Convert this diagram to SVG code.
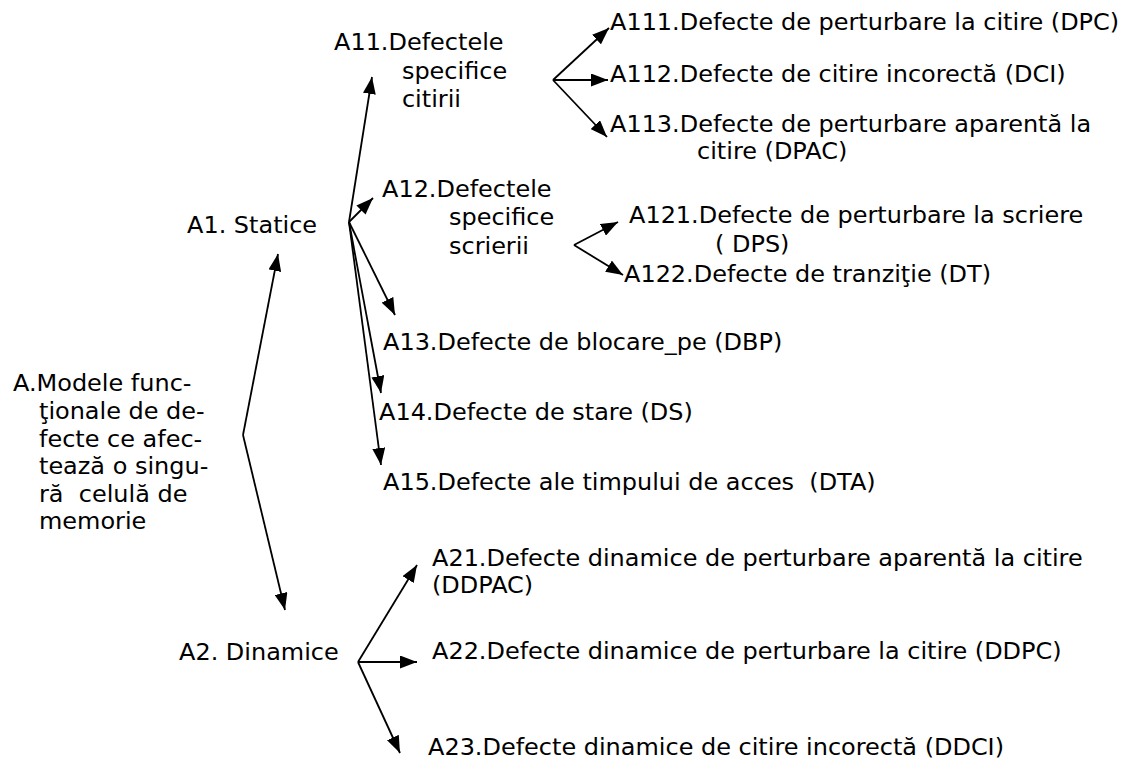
<svg xmlns="http://www.w3.org/2000/svg" width="1131" height="762" viewBox="0 0 1131 762">
  <style>
    text { font-family: "DejaVu Sans", Verdana, sans-serif; font-size: 22.5px; fill: #000; }
    .link { stroke: #000; stroke-width: 1.8; fill: none; marker-end: url(#head); }
  </style>
  <defs>
    <marker id="head" markerUnits="userSpaceOnUse" markerWidth="18" markerHeight="13" refX="17" refY="6.5" orient="auto">
      <path d="M0,0 L17,6.5 L0,13 z" fill="#000"/>
    </marker>
  </defs>
  <rect width="1131" height="762" fill="#fff"/>

  <!-- connectors -->
  <g id="connectors">
    <line class="link" x1="243" y1="435" x2="278" y2="254"/>
    <line class="link" x1="243" y1="435" x2="285" y2="610"/>
    <line class="link" x1="349" y1="222" x2="372" y2="77"/>
    <line class="link" x1="349" y1="222" x2="373" y2="198"/>
    <line class="link" x1="349" y1="222" x2="395" y2="315"/>
    <line class="link" x1="349" y1="222" x2="381" y2="393"/>
    <line class="link" x1="349" y1="222" x2="381" y2="465"/>
    <line class="link" x1="553" y1="80" x2="609" y2="28"/>
    <line class="link" x1="553" y1="80" x2="608" y2="80"/>
    <line class="link" x1="553" y1="80" x2="607" y2="137"/>
    <line class="link" x1="574" y1="245" x2="618" y2="222"/>
    <line class="link" x1="574" y1="245" x2="623" y2="275"/>
    <line class="link" x1="358" y1="662" x2="417" y2="565"/>
    <line class="link" x1="358" y1="662" x2="417" y2="662"/>
    <line class="link" x1="358" y1="662" x2="400" y2="753"/>
  </g>

  <!-- nodes: text is set slightly wide (scale 1.065 horizontally) -->
  <g id="node-A">
    <text transform="translate(13 391) scale(1.065 1)">A.Modele func-<tspan x="24.4" dy="28">ţionale de de-</tspan><tspan x="24.4" dy="28">fecte ce afec-</tspan><tspan x="24.4" dy="27">tează o singu-</tspan><tspan x="24.4" dy="28">ră&#160; celulă de</tspan><tspan x="24.4" dy="27">memorie</tspan></text>
  </g>
  <g id="node-A1">
    <text transform="translate(187 233) scale(1.065 1)">A1. Statice</text>
  </g>
  <g id="node-A2">
    <text transform="translate(179 660) scale(1.065 1)">A2. Dinamice</text>
  </g>
  <g id="node-A11">
    <text transform="translate(334 50) scale(1.065 1)">A11.Defectele<tspan x="63.8" dy="29">specifice</tspan><tspan x="63.8" dy="28">citirii</tspan></text>
  </g>
  <g id="node-A111">
    <text transform="translate(610 30) scale(1.065 1)">A111.Defecte de perturbare la citire (DPC)</text>
  </g>
  <g id="node-A112">
    <text transform="translate(610 82) scale(1.065 1)">A112.Defecte de citire incorectă (DCI)</text>
  </g>
  <g id="node-A113">
    <text transform="translate(610 132) scale(1.065 1)">A113.Defecte de perturbare aparentă la<tspan x="81.7" dy="27">citire (DPAC)</tspan></text>
  </g>
  <g id="node-A12">
    <text transform="translate(382 197) scale(1.065 1)">A12.Defectele<tspan x="62.9" dy="28">specifice</tspan><tspan x="62.9" dy="29">scrierii</tspan></text>
  </g>
  <g id="node-A121">
    <text transform="translate(629 223) scale(1.065 1)">A121.Defecte de perturbare la scriere<tspan x="80.8" dy="29">( DPS)</tspan></text>
  </g>
  <g id="node-A122">
    <text transform="translate(624 282) scale(1.065 1)">A122.Defecte de tranziţie (DT)</text>
  </g>
  <g id="node-A13">
    <text transform="translate(383 350) scale(1.065 1)">A13.Defecte de blocare_pe (DBP)</text>
  </g>
  <g id="node-A14">
    <text transform="translate(379 420) scale(1.065 1)">A14.Defecte de stare (DS)</text>
  </g>
  <g id="node-A15">
    <text transform="translate(383 490) scale(1.065 1)">A15.Defecte ale timpului de acces&#160; (DTA)</text>
  </g>
  <g id="node-A21">
    <text transform="translate(432 566) scale(1.065 1)">A21.Defecte dinamice de perturbare aparentă la citire<tspan x="0" dy="27">(DDPAC)</tspan></text>
  </g>
  <g id="node-A22">
    <text transform="translate(432 659) scale(1.065 1)">A22.Defecte dinamice de perturbare la citire (DDPC)</text>
  </g>
  <g id="node-A23">
    <text transform="translate(428 755) scale(1.065 1)">A23.Defecte dinamice de citire incorectă (DDCI)</text>
  </g>
</svg>
